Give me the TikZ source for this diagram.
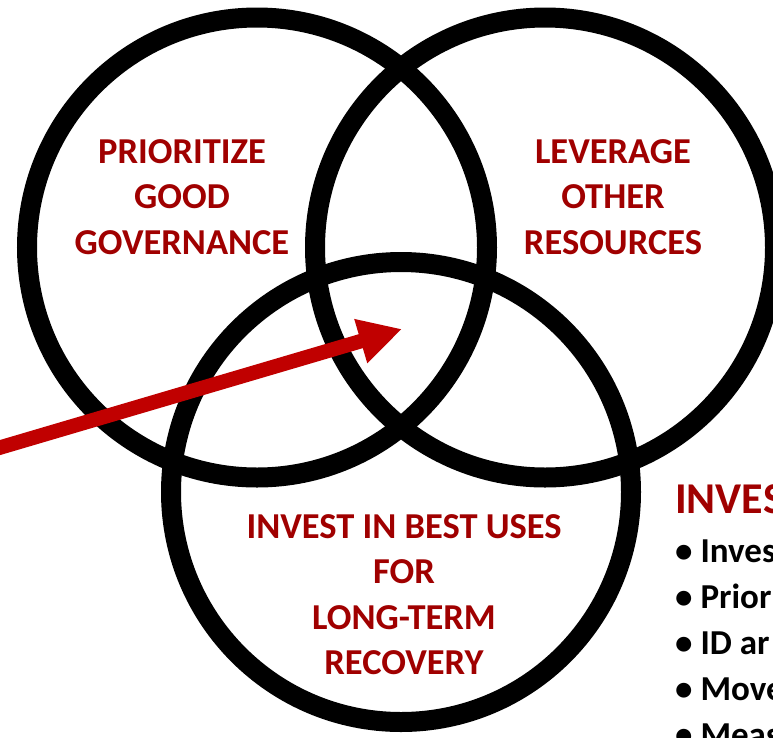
\documentclass[tikz,border=0pt]{standalone}
\usepackage{fontspec}
\setmainfont{Carlito}
\usetikzlibrary{arrows.meta}
\definecolor{txtred}{RGB}{160,0,0}
\definecolor{arrred}{RGB}{192,0,0}
\tikzset{
  ring/.style={circle, draw=black, line width=20pt, minimum size=460pt, inner sep=0pt},
  label/.style={text=txtred, font=\bfseries\fontsize{36.5}{45.5}\selectfont, align=center, inner sep=0pt},
  head/.style={text=txtred, font=\bfseries\fontsize{44}{50}\selectfont, inner sep=0pt},
  blist/.style={text=black, font=\bfseries\fontsize{35}{46}\selectfont, align=left, inner sep=0pt},
  bigarrow/.style={draw=arrred, line width=14.5pt, -{Triangle[length=43pt,width=43pt]}}
}
\begin{document}
\begin{tikzpicture}[x=1pt, y=-1pt]
\useasboundingbox (0,0) rectangle (773,737);
\clip (0,0) rectangle (773,737);
\fill[white] (0,0) rectangle (773,737);
\node[ring] (c1) at (257,247.5) {};
\node[ring] (c2) at (545,247.5) {};
\node[ring] (c3) at (401,492) {};
\node[label] (t1) at (182,197) {PRIORITIZE\\GOOD\\GOVERNANCE};
\node[label] (t2) at (613,197) {LEVERAGE\\OTHER\\RESOURCES};
\node[label] (t3) at (404,594.5) {INVEST IN BEST USES\\FOR\\LONG-TERM\\RECOVERY};
\node[head, anchor=base west] (h) at (675,513) {INVES};
\node[blist, anchor=north west] (bl) at (675,540) {\textbullet\ Inves\\\textbullet\ Prior\\\textbullet\ ID ar\\\textbullet\ Move\\\textbullet\ Meas};
\coordinate (as) at (-10,450.5);
\coordinate (at) at (402,329);
\draw[bigarrow] (as) -- (at);
\end{tikzpicture}
\end{document}
